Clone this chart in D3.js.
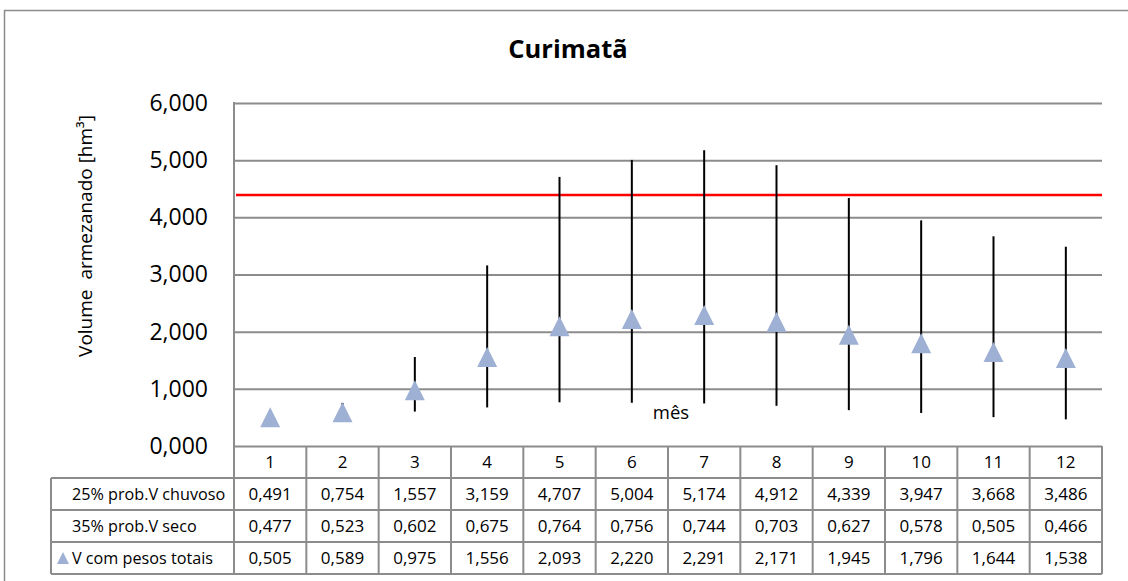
<!DOCTYPE html>
<html>
<head>
<meta charset="utf-8">
<script src="https://cdn.jsdelivr.net/npm/d3@7"></script>
<style>
  body { margin: 0; background: #fff; }
  svg { font-family: "Open Sans", sans-serif; }
</style>
</head>
<body>
<svg id="chart" width="1128" height="581"></svg>
<script>
  // data
  const months = ['1', '2', '3', '4', '5', '6', '7', '8', '9', '10', '11', '12'];
  const chuvoso = [0.491, 0.754, 1.557, 3.159, 4.707, 5.004, 5.174, 4.912, 4.339, 3.947, 3.668, 3.486];
  const seco = [0.477, 0.523, 0.602, 0.675, 0.764, 0.756, 0.744, 0.703, 0.627, 0.578, 0.505, 0.466];
  const totais = [0.505, 0.589, 0.975, 1.556, 2.093, 2.220, 2.291, 2.171, 1.945, 1.796, 1.644, 1.538];
  const limite = 4.39;
  const yTicks = [0, 1, 2, 3, 4, 5, 6];
  const rowLabels = ['25% prob.V chuvoso', '35% prob.V seco', 'V com pesos totais'];

  const svg = d3.select('#chart');
  const grey = '#8c8c8c';
  const fmt = v => d3.format('.3f')(v).replace('.', ',');

  const plotLeft = 234, plotRight = 1102, plotTop = 103, plotBottom = 446;
  const rowH = 32, labelLeft = 51;

  const x = d3.scaleBand().domain(months).range([plotLeft, plotRight]);
  const y = d3.scaleLinear().domain([0, 6]).range([plotBottom, plotTop]);
  const cx = m => x(m) + x.bandwidth() / 2;

  // outer chart border
  svg.append('rect')
     .attr('x', 4.5).attr('y', 10.5)
     .attr('width', 1140).attr('height', 600)
     .attr('fill', 'none').attr('stroke', grey).attr('stroke-width', 1.5);

  svg.append('text')
     .attr('x', 568).attr('y', 58)
     .attr('text-anchor', 'middle')
     .attr('font-size', 25.5).attr('font-weight', 'bold')
     .text('Curimatã');

  // y axis with gridlines
  const yAxis = svg.append('g')
    .attr('transform', `translate(${plotLeft},0)`)
    .call(d3.axisLeft(y).tickValues(yTicks).tickFormat(fmt)
      .tickSizeInner(-(plotRight - plotLeft)).tickSizeOuter(0).tickPadding(26));
  yAxis.select('.domain').remove();
  yAxis.selectAll('line').attr('stroke', grey).attr('stroke-width', 2);
  yAxis.selectAll('text').attr('font-size', 23).attr('fill', '#000')
       .attr('font-family', '"Open Sans", sans-serif');

  svg.append('line')
     .attr('x1', plotLeft).attr('x2', plotLeft).attr('y1', plotTop - 1).attr('y2', plotBottom + 4 * rowH)
     .attr('stroke', grey).attr('stroke-width', 2);

  svg.append('text')
     .attr('transform', 'translate(92,236) rotate(-90)')
     .attr('text-anchor', 'middle')
     .attr('font-size', 19)
     .style('white-space', 'pre')
     .text('Volume  armezanado [hm³]');

  svg.append('text')
     .attr('x', 671).attr('y', 419)
     .attr('text-anchor', 'middle')
     .attr('font-size', 18.5)
     .text('mês');

  // reference line
  svg.append('line')
     .attr('x1', plotLeft + 2).attr('x2', plotRight)
     .attr('y1', y(limite)).attr('y2', y(limite))
     .attr('stroke', '#ff0000').attr('stroke-width', 2.5);

  // error bars
  svg.append('g').selectAll('line')
     .data(months)
     .enter().append('line')
     .attr('x1', cx).attr('x2', cx)
     .attr('y1', (d, i) => y(seco[i]))
     .attr('y2', (d, i) => y(chuvoso[i]))
     .attr('stroke', '#000').attr('stroke-width', 2);

  const tri = {
    draw(ctx, size) {
      const h = Math.sqrt(size) / 2;
      ctx.moveTo(0, -h);
      ctx.lineTo(h, h);
      ctx.lineTo(-h, h);
      ctx.closePath();
    }
  };
  const triColor = '#9eb0d4';

  svg.append('g').selectAll('path')
     .data(months)
     .enter().append('path')
     .attr('transform', (d, i) => `translate(${cx(d)},${y(totais[i])})`)
     .attr('d', d3.symbol(tri, 400))
     .attr('fill', triColor);

  // data table
  const table = svg.append('g')
    .attr('font-size', 17);
  const tableBottom = plotBottom + 4 * rowH;

  // horizontal rules
  [1, 2, 3, 4].forEach(r => {
    table.append('line')
         .attr('x1', labelLeft).attr('x2', plotRight)
         .attr('y1', plotBottom + r * rowH).attr('y2', plotBottom + r * rowH)
         .attr('stroke', grey).attr('stroke-width', 2);
  });
  table.append('line')
       .attr('x1', labelLeft).attr('x2', labelLeft)
       .attr('y1', plotBottom + rowH).attr('y2', tableBottom)
       .attr('stroke', grey).attr('stroke-width', 2);
  table.selectAll('.sep')
       .data(months)
       .enter().append('line')
       .attr('class', 'sep')
       .attr('x1', d => x(d) + x.bandwidth()).attr('x2', d => x(d) + x.bandwidth())
       .attr('y1', plotBottom).attr('y2', tableBottom)
       .attr('stroke', grey).attr('stroke-width', 2);

  table.selectAll('.hdr')
       .data(months)
       .enter().append('text')
       .attr('class', 'hdr')
       .attr('x', cx).attr('y', plotBottom + rowH / 2)
       .attr('dy', '0.35em').attr('text-anchor', 'middle')
       .text(d => d);

  [chuvoso, seco, totais].forEach((vals, r) => {
    const yc = plotBottom + (r + 1.5) * rowH;
    table.append('text')
         .attr('x', 72).attr('y', yc).attr('dy', '0.35em')
         .attr('font-size', 16.2)
         .text(rowLabels[r]);
    table.selectAll('.v' + r)
         .data(vals)
         .enter().append('text')
         .attr('class', 'v' + r)
         .attr('x', (d, i) => cx(months[i])).attr('y', yc)
         .attr('dy', '0.35em').attr('text-anchor', 'middle')
         .text(fmt);
  });

  table.append('path')
       .attr('transform', `translate(63,${plotBottom + 3.5 * rowH})`)
       .attr('d', d3.symbol(tri, 144))
       .attr('fill', triColor);
</script>
</body>
</html>
